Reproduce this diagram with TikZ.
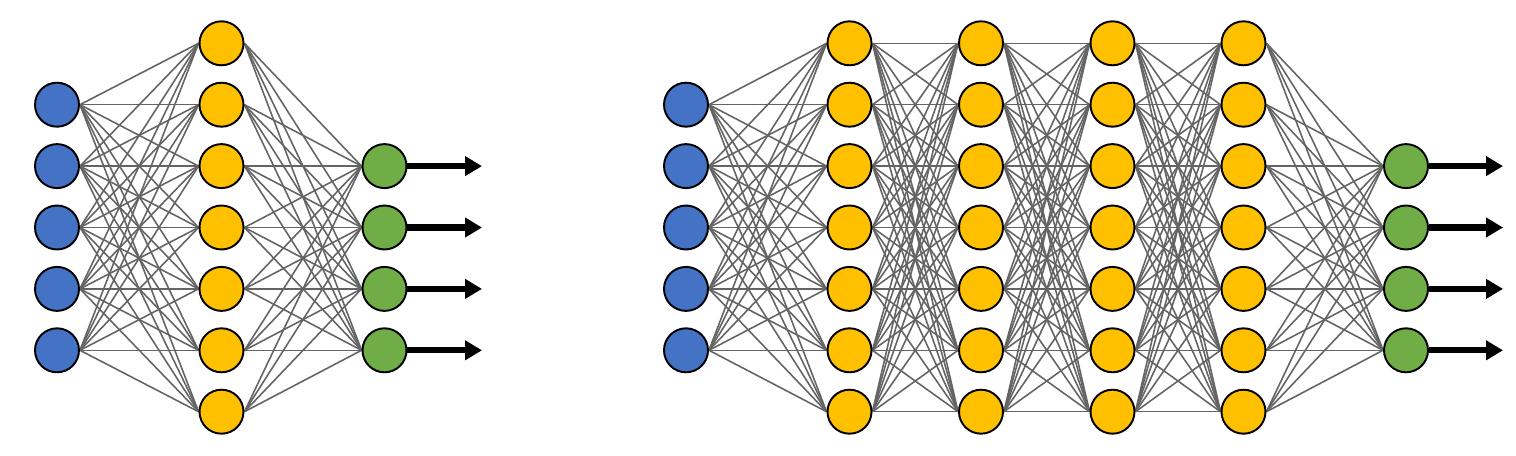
\documentclass[tikz,border=0pt]{standalone}
\usetikzlibrary{arrows.meta,backgrounds}
\definecolor{inblue}{HTML}{4472C4}
\definecolor{hidyel}{HTML}{FFC000}
\definecolor{outgrn}{HTML}{70AD47}
\definecolor{edgegray}{RGB}{100,100,100}
\begin{document}
\begin{tikzpicture}[x=0.02cm,y=-0.02cm,
  neuron/.style={circle,draw=black,line width=1.1pt,minimum size=0.88cm,inner sep=0pt},
  innode/.style={neuron,fill=inblue},
  hidnode/.style={neuron,fill=hidyel},
  outnode/.style={neuron,fill=outgrn},
  conn/.style={draw=edgegray,line width=0.9pt},
  outarrow/.style={line width=3.6pt,-{Triangle[length=0.34cm,width=0.38cm]}}]
\useasboundingbox (0,0) rectangle (1516,456);
% ---------- left network ----------
\foreach \i in {1,...,5} \node[innode] (a0-\i) at (57,{43.3+61.4*\i}) {};
\foreach \i in {0,...,6} \node[hidnode] (a1-\i) at (221.5,{43.3+61.4*\i}) {};
\foreach \i in {2,...,5} \node[outnode] (a2-\i) at (384.5,{43.3+61.4*\i}) {};
\begin{scope}[on background layer]
\foreach \i in {1,...,5} \foreach \j in {0,...,6} \draw[conn] (a0-\i.east) -- (a1-\j.west);
\foreach \i in {0,...,6} \foreach \j in {2,...,5} \draw[conn] (a1-\i.east) -- (a2-\j.west);
\end{scope}
\foreach \i in {2,...,5} {
  \coordinate (ae-\i) at (482,{43.3+61.4*\i});
  \draw[outarrow] (a2-\i.east) -- (ae-\i);
}
% ---------- right network ----------
\foreach \i in {1,...,5} \node[innode] (b0-\i) at (686,{43.3+61.4*\i}) {};
\foreach \k/\xx in {1/849.5,2/981,3/1112.5,4/1243.5}
  \foreach \i in {0,...,6} \node[hidnode] (b\k-\i) at (\xx,{43.3+61.4*\i}) {};
\foreach \i in {2,...,5} \node[outnode] (b5-\i) at (1406,{43.3+61.4*\i}) {};
\begin{scope}[on background layer]
\foreach \i in {1,...,5} \foreach \j in {0,...,6} \draw[conn] (b0-\i.east) -- (b1-\j.west);
\foreach \k/\n in {1/2,2/3,3/4}
  \foreach \i in {0,...,6} \foreach \j in {0,...,6} \draw[conn] (b\k-\i.east) -- (b\n-\j.west);
\foreach \i in {0,...,6} \foreach \j in {2,...,5} \draw[conn] (b4-\i.east) -- (b5-\j.west);
\end{scope}
\foreach \i in {2,...,5} {
  \coordinate (be-\i) at (1503,{43.3+61.4*\i});
  \draw[outarrow] (b5-\i.east) -- (be-\i);
}
\end{tikzpicture}
\end{document}
